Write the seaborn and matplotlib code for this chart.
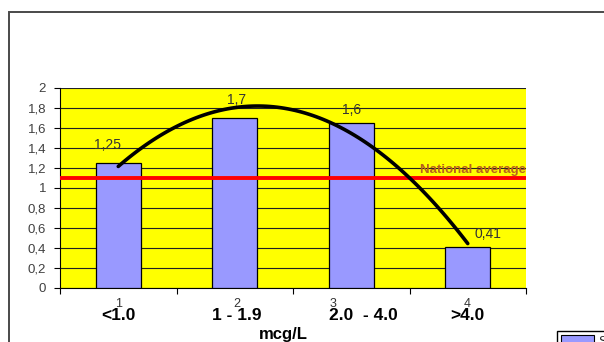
import matplotlib
matplotlib.use("Agg")
import matplotlib.pyplot as plt
from matplotlib.patches import Rectangle, Patch
import seaborn as sns
import pandas as pd
import numpy as np

# ---- data ----
categories = ["<1.0", "1 - 1.9", "2.0  - 4.0", ">4.0"]
values = [1.25, 1.70, 1.65, 0.41]
value_labels = ["1,25", "1,7", "1,6", "0,41"]
category_numbers = ["1", "2", "3", "4"]
national_average = 1.1
national_label = "National average"
ytick_values = [0, 0.2, 0.4, 0.6, 0.8, 1.0, 1.2, 1.4, 1.6, 1.8, 2.0]
ytick_labels = ["0", "0,2", "0,4", "0,6", "0,8", "1", "1,2", "1,4", "1,6", "1,8", "2"]
x_title = "mcg/L"
legend_label = "Series1"

sns.set_theme(style="white")
plt.rcParams["font.family"] = ["Liberation Sans", "DejaVu Sans"]

W, H = 604, 342
fig = plt.figure(figsize=(W / 100, H / 100), dpi=100)
fig.patch.set_facecolor("white")

# outer chart frame
fig.add_artist(Rectangle((9 / W, -0.2), 2.0, (H - 12) / H + 0.2,
                         transform=fig.transFigure, fill=False,
                         edgecolor="#4a4a4a", linewidth=1.4, clip_on=False))

ax = fig.add_axes([60 / W, 54 / H, 466 / W, 200 / H])
ax.set_facecolor("#FFFF00")

df = pd.DataFrame({"cat": categories, "val": values})
sns.barplot(data=df, x="cat", y="val", color="#9999FF", edgecolor="black",
            linewidth=0.9, width=0.39, saturation=1, ax=ax, zorder=3)

# grid lines
for yv in ytick_values:
    ax.axhline(yv, color="#222222", linewidth=0.8, zorder=1)

# national average
ax.axhline(national_average, color="#FF0000", linewidth=2.8, zorder=5)
ax.text(1.0, national_average + 0.015, national_label, transform=ax.get_yaxis_transform(),
        ha="right", va="bottom", fontsize=9.5, fontweight="bold", color="#B8601C", zorder=6)

# quadratic trendline
pos = np.arange(len(values))
sns.regplot(x=pos, y=values, order=2, ci=None, scatter=False, truncate=True,
            line_kws=dict(color="black", linewidth=2.6, zorder=7), ax=ax)

# value labels
lbl_dx = [-11, 2, 0, 20]
lbl_dy = [18, 18, 13, 13]
for i, (v, t) in enumerate(zip(values, value_labels)):
    ax.annotate(t, (i, v), xytext=(lbl_dx[i] * 0.72, lbl_dy[i] * 0.72),
                textcoords="offset points", ha="center", va="center",
                fontsize=10, color="#333333", zorder=8)

ax.set_xlim(-0.5, len(values) - 0.5)
ax.set_ylim(0, 2)
ax.set_yticks(ytick_values)
ax.set_yticklabels(ytick_labels, fontsize=9.5, color="#404040")
ax.tick_params(axis="y", direction="out", length=4, width=0.8, color="black", pad=6, left=True)

# x: ticks at boundaries, labels as text
ax.set_xticks(np.arange(len(values) + 1) - 0.5)
ax.set_xticklabels([])
ax.tick_params(axis="x", direction="out", length=4, width=0.8, color="black", bottom=True)
ax.set_xlabel("")
ax.set_ylabel("")

xf = ax.get_xaxis_transform()
lab_off = [0, 0.015, 0.107, 0]
num_off = [0, 0.019, -0.157, -0.006]
for i, (c, n) in enumerate(zip(categories, category_numbers)):
    ax.text(i + lab_off[i], -28 / 200, c, transform=xf, ha="center", va="center",
            fontsize=12.5, fontweight="bold", color="black", clip_on=False, zorder=2)
    ax.text(i + num_off[i], -16 / 200, n, transform=xf, ha="center", va="center",
            fontsize=9, color="#333333", clip_on=False, zorder=3)

ax.text(0.48, -47 / 200, x_title, transform=ax.transAxes, ha="center", va="center",
        fontsize=12, fontweight="bold", color="black", clip_on=False)

for s in ["top", "right"]:
    ax.spines[s].set_visible(False)
for s in ["left", "bottom"]:
    ax.spines[s].set_color("black")
    ax.spines[s].set_linewidth(0.8)

# partially visible legend
fig.legend(handles=[Patch(facecolor="#9999FF", edgecolor="black", linewidth=0.8, label=legend_label)],
           loc="upper left", bbox_to_anchor=(557 / W, 1 - 331 / H), frameon=True,
           fancybox=False, edgecolor="black", fontsize=9, handlelength=2.6,
           handleheight=1.0, borderpad=0.35, handletextpad=0.4, borderaxespad=0,
           framealpha=1)

fig.savefig("out.png", dpi=100)
